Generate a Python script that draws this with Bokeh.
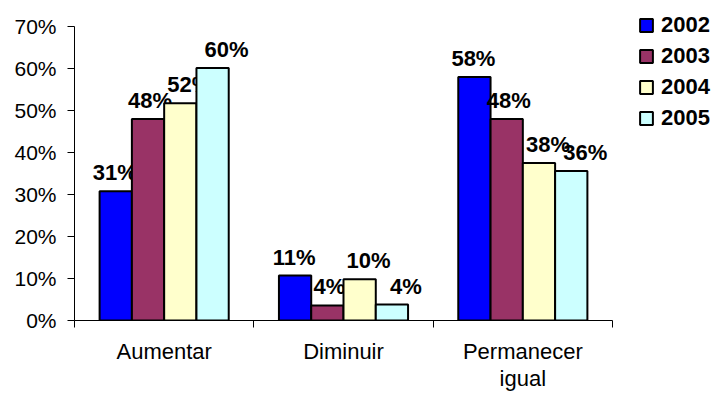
from bokeh.plotting import figure
from bokeh.models import (Range1d, FixedTicker, NumeralTickFormatter, ColumnDataSource,
                          Legend, LegendItem, LinearAxis)
from bokeh.embed import file_html
from bokeh.resources import INLINE
from bokeh.core.properties import value

categories = ["Aumentar", "Diminuir", "Permanecer igual"]
years = ["2002", "2003", "2004", "2005"]
v2002 = [0.308, 0.107, 0.580]
v2003 = [0.480, 0.036, 0.480]
v2004 = [0.517, 0.098, 0.375]
v2005 = [0.601, 0.038, 0.356]
y_ticks = [0.0, 0.1, 0.2, 0.3, 0.4, 0.5, 0.6, 0.7]

series = [v2002, v2003, v2004, v2005]
colors = ["#0000FF", "#993366", "#FFFFCC", "#CCFFFF"]
offsets = [-0.27, -0.09, 0.09, 0.27]
label_dx = [-1, 2, 9, 14]
FONT = "Liberation Sans"

W, H = 720, 394
LEFT, TOP, BOTTOM = 74, 4, 74
AXIS_RIGHT_PX, AXIS_TOP_PX = 612, 26     # where the drawn axes end on the page
n = len(categories)
y_max = y_ticks[-1]
frame_w = W - LEFT
frame_h = H - TOP - BOTTOM
x_end = n * frame_w / (AXIS_RIGHT_PX - LEFT)
y_end = y_max * frame_h / (H - BOTTOM - AXIS_TOP_PX)

p = figure(width=W, height=H, output_backend="svg", toolbar_location=None,
           x_range=Range1d(0, x_end), y_range=Range1d(0, y_end),
           min_border_left=LEFT, min_border_right=0, min_border_top=TOP,
           min_border_bottom=BOTTOM, x_axis_type=None)
p.outline_line_color = None
p.xgrid.visible = False
p.ygrid.visible = False
p.background_fill_color = "white"
p.border_fill_color = "white"

# y axis
p.yaxis.ticker = FixedTicker(ticks=y_ticks, minor_ticks=[])
p.yaxis.bounds = (0, y_max)
p.yaxis.formatter = NumeralTickFormatter(format="0%")
p.yaxis.major_tick_in = 0
p.yaxis.major_tick_out = 7
p.yaxis.major_label_standoff = 11
p.yaxis.major_label_text_font = FONT
p.yaxis.major_label_text_font_size = "21px"
p.yaxis.major_label_text_color = "black"
p.yaxis.axis_line_color = "black"
p.yaxis.major_tick_line_color = "black"

# x axis: labels at category centres, ticks at boundaries
centers = [i + 0.5 for i in range(n)]
bounds = [float(i) for i in range(n + 1)]
xaxis = LinearAxis(ticker=FixedTicker(ticks=centers, minor_ticks=bounds))
xaxis.bounds = (0, n)
xaxis.major_label_overrides = {c: cat.replace(" ", "\n") for c, cat in zip(centers, categories)}
xaxis.major_tick_in = 0
xaxis.major_tick_out = 0
xaxis.minor_tick_in = 0
xaxis.minor_tick_out = 7
xaxis.minor_tick_line_color = "black"
xaxis.axis_line_color = "black"
xaxis.major_label_standoff = 11
xaxis.major_label_text_font = FONT
xaxis.major_label_text_font_size = "22px"
xaxis.major_label_text_color = "black"
xaxis.major_label_text_line_height = 1.1
p.add_layout(xaxis, "below")

items = []
for k, (yr, vals) in enumerate(zip(years, series)):
    src = ColumnDataSource(dict(
        x=[i + 0.5 + offsets[k] for i in range(n)],
        top=vals,
        label=[f"{round(v * 100)}%" for v in vals],
    ))
    r = p.vbar(x="x", top="top", bottom=0, width=0.18, source=src,
               fill_color=colors[k], line_color="black", line_width=2)
    p.text(x="x", y="top", text="label", source=src, text_align="center",
           text_baseline="bottom", x_offset=label_dx[k], y_offset=-6,
           text_font=value(FONT), text_font_style="bold", text_font_size="22px",
           text_color="black")
    items.append(LegendItem(label=yr, renderers=[r]))

legend = Legend(items=items, location=(638 - LEFT, H - BOTTOM - 131), orientation="vertical",
                glyph_width=16, glyph_height=16, label_standoff=7,
                label_text_font=FONT, label_text_font_style="bold",
                label_text_font_size="22px", label_text_color="black",
                spacing=5, padding=0, margin=0, border_line_color=None,
                background_fill_alpha=0)
p.add_layout(legend, "center")

open("out.html", "w").write(file_html(p, INLINE))
